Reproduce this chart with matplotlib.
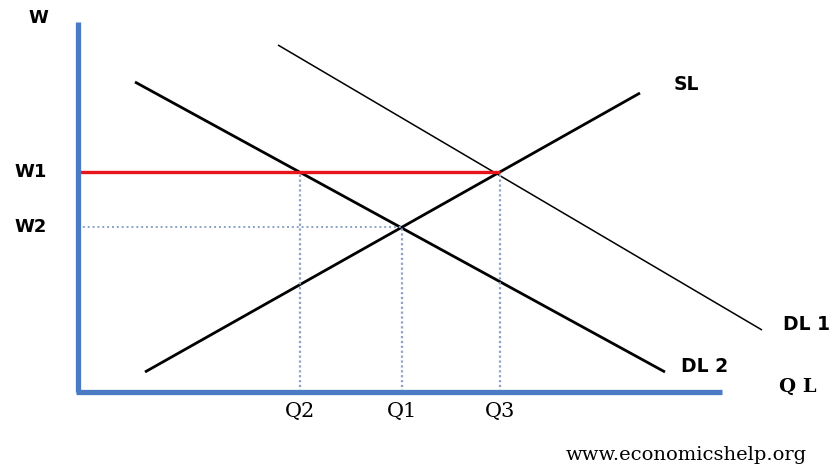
import matplotlib
matplotlib.use("Agg")
import matplotlib.pyplot as plt

# Data (abstract units: origin at axis corner)
sl_q = [6.7, 56.2]
sl_w = [2.0, 29.9]
dl2_q = [5.7, 58.7]
dl2_w = [31.0, 2.0]
dl1_q = [20.0, 68.4]
dl1_w = [34.7, 6.2]
w_vals = [22.0, 16.5]          # W1, W2
w_labels = ["W1", "W2"]
q_vals = [22.2, 32.4, 42.2]    # Q2, Q1, Q3
q_labels = ["Q2", "Q1", "Q3"]
q_top = [22.0, 16.5, 22.0]     # wage level where each dotted drop starts

fig = plt.figure(figsize=(8.37, 4.66), dpi=100)
ax = fig.add_axes([0, 0, 1, 1])
ax.set_xlim(-7.8, 75.9)
ax.set_ylim(-7.4, 39.2)
ax.axis("off")

blue = "#4a7bc4"
dot = "#8da2c8"

# demand/supply lines
ax.plot(sl_q, sl_w, color="black", lw=2.0, solid_capstyle="butt")
ax.plot(dl2_q, dl2_w, color="black", lw=2.0, solid_capstyle="butt")
ax.plot(dl1_q, dl1_w, color="black", lw=1.1, solid_capstyle="butt")

# dotted guides
ax.plot([0, q_vals[1]], [w_vals[1], w_vals[1]], color=dot, lw=1.4, ls=(0, (1, 1.5)))
for q, top in zip(q_vals, q_top):
    ax.plot([q, q], [0, top], color=dot, lw=1.6, ls=(0, (1, 1.2)))

# red minimum wage line
ax.plot([0, q_vals[2]], [w_vals[0], w_vals[0]], color="#e8141c", lw=2.4, solid_capstyle="butt")

# axes
ax.plot([0, 0], [0, 37.0], color=blue, lw=3.8, solid_capstyle="butt")
ax.plot([-0.2, 64.4], [0, 0], color=blue, lw=3.8, solid_capstyle="butt")

sans = dict(family="DejaVu Sans", fontweight="bold", color="black")
serif = dict(family="DejaVu Serif", color="black")

ax.text(-4.0, 37.4, "W", fontsize=13, ha="center", va="center", **sans)
for w, lab in zip(w_vals, w_labels):
    ax.text(-4.7, w, lab, fontsize=13, ha="center", va="center", **sans)
for q, lab in zip(q_vals, q_labels):
    ax.text(q, -2.0, lab, fontsize=15, ha="center", va="center", **serif)

ax.text(60.8, 30.7, "SL", fontsize=13.5, ha="center", va="center", **sans)
ax.text(72.9, 6.7, "DL 1", fontsize=13.5, ha="center", va="center", **sans)
ax.text(62.7, 2.6, "DL 2", fontsize=13.5, ha="center", va="center", **sans)
ax.text(72.0, 0.5, "Q L", fontsize=14, ha="center", va="center",
        family="DejaVu Serif", fontweight="bold", color="black")
ax.text(60.8, -6.3, "www.economicshelp.org", fontsize=14, ha="center", va="center", **serif)

fig.savefig("out.png", dpi=100)
